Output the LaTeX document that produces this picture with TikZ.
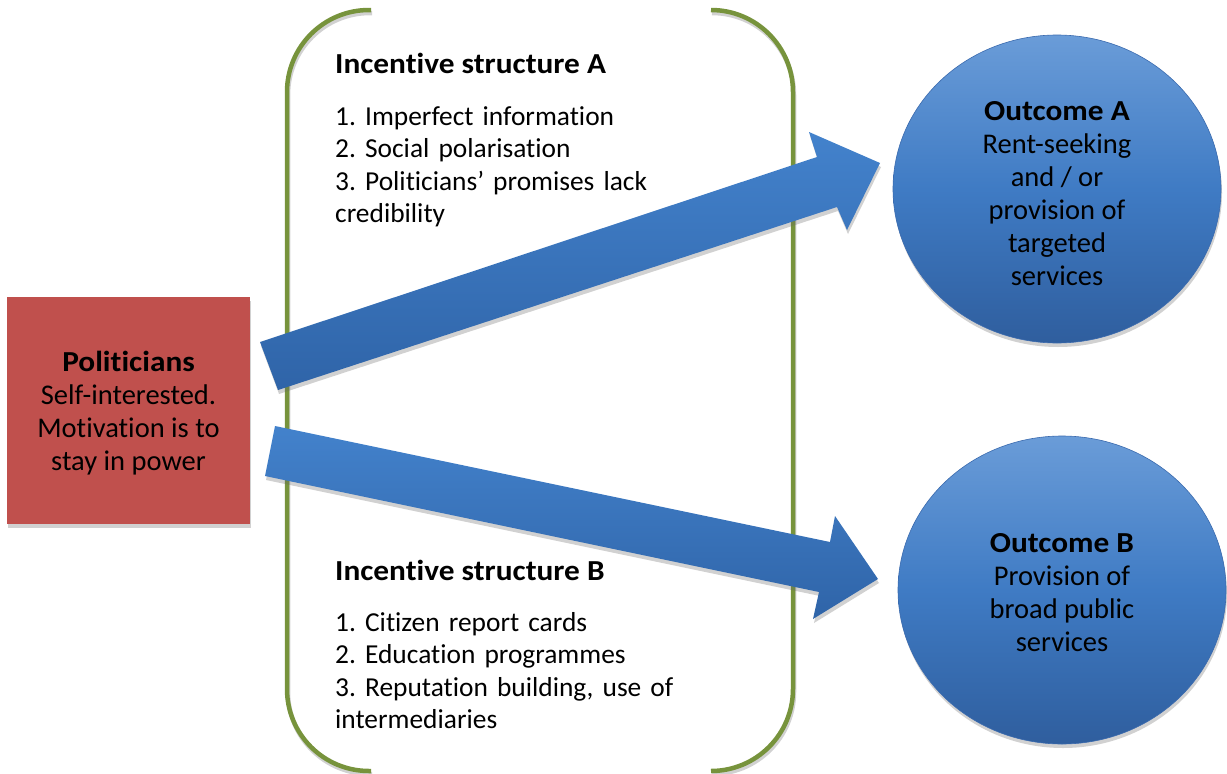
\documentclass[tikz,border=0pt]{standalone}
\usepackage{fontspec}
\setmainfont{Carlito}[Ligatures=NoCommon]
\newfontfamily\headfont{Carlito}[FakeStretch=1.08, Ligatures=NoCommon]
\newcommand\hbtext{\headfont\bfseries\fontsize{29}{33}\selectfont}
\usetikzlibrary{shapes.geometric,shadows}
\definecolor{brgreen}{HTML}{77933C}
\definecolor{boxred}{HTML}{C0504D}
\definecolor{bluetop}{HTML}{6A9CD8}
\definecolor{bluemid}{HTML}{3F7BC4}
\definecolor{bluebot}{HTML}{2F5E9E}
\definecolor{blueedge}{HTML}{3A6AAE}
\definecolor{arrtop}{HTML}{4382CC}
\definecolor{arrbot}{HTML}{2F64A8}
\tikzset{
  bracket/.style={draw=brgreen, line width=4.5pt, rounded corners=82pt},
  bracketshadow/.style={draw=black, opacity=0.18, line width=4.5pt, rounded corners=82pt},
  softshadow/.style={drop shadow={shadow xshift=1pt, shadow yshift=-4pt, opacity=0.3, fill=black!60}},
  bigarrow/.style={top color=arrtop, bottom color=arrbot, draw=none, softshadow},
  txt/.style={font=\frenchspacing\fontsize{28.5}{33}\selectfont, text=black},
  outcome/.style={ellipse, minimum width=328pt, minimum height=308pt, inner sep=0pt,
    top color=bluetop, bottom color=bluebot, middle color=bluemid, draw=blueedge, line width=0.6pt,
    softshadow, txt, align=center},
  pbox/.style={rectangle, minimum width=243pt, minimum height=227pt, inner sep=0pt,
    fill=boxred, draw=none, softshadow, txt, align=center},
  listtxt/.style={inner sep=0pt, text width=450pt, align=left, anchor=base west,
    font=\frenchspacing\fontsize{27.4}{32.5}\selectfont},
  headtxt/.style={inner sep=0pt, anchor=base west, font=\hbtext}
}
\begin{document}
\begin{tikzpicture}[x=1pt,y=-1pt]
\useasboundingbox (0,0) rectangle (1227,774);
% incentive bracket
\begin{scope}[xshift=1pt, yshift=-3pt]
\draw[bracketshadow] (371,10) -- (287,10) -- (287,771) -- (371,771);
\draw[bracketshadow] (711,10) -- (793,10) -- (793,771) -- (711,771);
\end{scope}
\draw[bracket] (371,10) -- (287,10) -- (287,771) -- (371,771);
\draw[bracket] (711,10) -- (793,10) -- (793,771) -- (711,771);
% texts in bracket
\node[headtxt] (headA) at (335,73) {Incentive structure A};
\node[listtxt] (listA) at (335,125) {1. Imperfect information\\2. Social polarisation\\3. Politicians’ promises lack\\credibility};
\node[headtxt] (headB) at (335,580) {Incentive structure B};
\node[listtxt] (listB) at (335,631) {1. Citizen report cards\\2. Education programmes\\3. Reputation building, use of\\intermediaries};
% arrows
\path[bigarrow] (260,342) -- (817,157) -- (809,132) -- (880,163) -- (847,230) -- (837,207) -- (278,390) -- cycle;
\path[bigarrow] (275,426) -- (830,542) -- (835,516) -- (878,579) -- (813,619) -- (819,592) -- (265,476) -- cycle;
% politicians
\node[pbox] (pol) at (128.5,410) {{\hbtext\rule{0pt}{27pt}Politicians}\\Self-interested.\\Motivation is to\\stay in power};
% outcomes
\node[outcome] (outA) at (1057,189) {{\hbtext\rule{0pt}{28pt}Outcome A}\\Rent-seeking\\and / or\\provision of\\targeted\\services};
\node[outcome] (outB) at (1062,590) {{\hbtext\rule{0pt}{25pt}Outcome B}\\Provision of\\broad public\\services};
\end{tikzpicture}
\end{document}
